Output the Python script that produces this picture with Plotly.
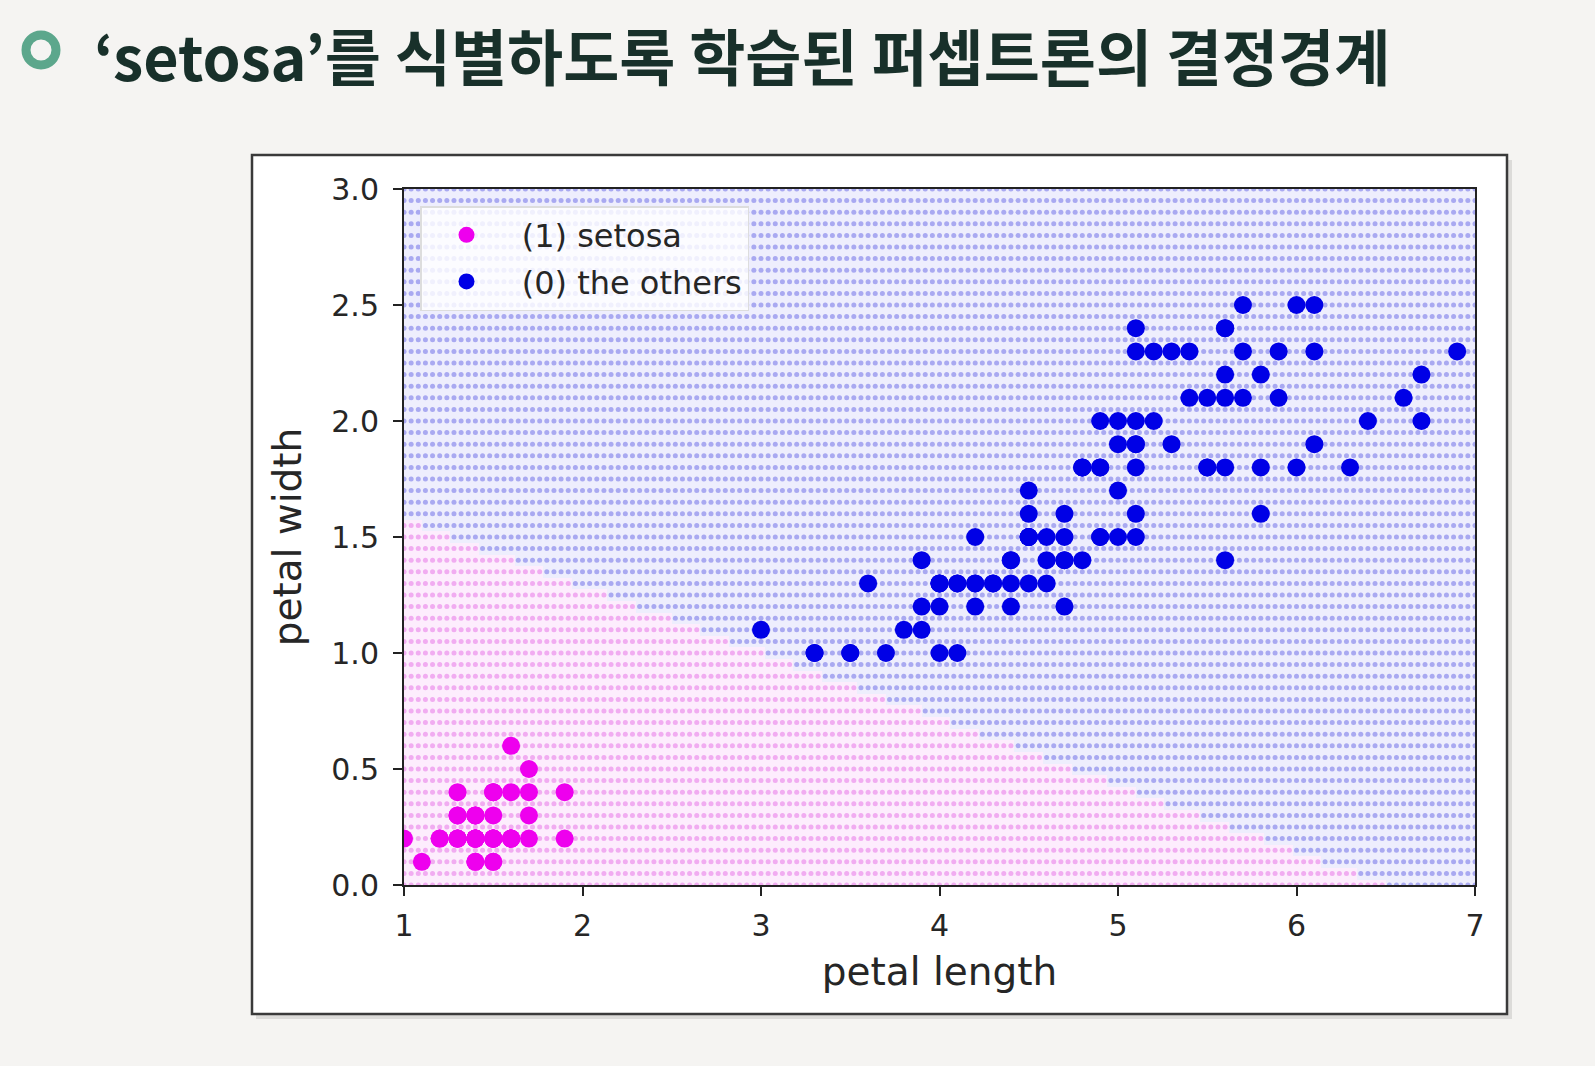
import numpy as np
import plotly.graph_objects as go

# ---------------- data ----------------
setosa_petal_length = [1.4, 1.4, 1.3, 1.5, 1.4, 1.7, 1.4, 1.5, 1.4, 1.5,
                       1.5, 1.6, 1.4, 1.1, 1.2, 1.5, 1.3, 1.4, 1.7, 1.5,
                       1.7, 1.5, 1.0, 1.7, 1.9, 1.6, 1.6, 1.5, 1.4, 1.6,
                       1.6, 1.5, 1.5, 1.4, 1.5, 1.2, 1.3, 1.4, 1.3, 1.5,
                       1.3, 1.3, 1.3, 1.6, 1.9, 1.4, 1.6, 1.4, 1.5, 1.4]
setosa_petal_width = [0.2, 0.2, 0.2, 0.2, 0.2, 0.4, 0.3, 0.2, 0.2, 0.1,
                      0.2, 0.2, 0.1, 0.1, 0.2, 0.4, 0.4, 0.3, 0.3, 0.3,
                      0.2, 0.4, 0.2, 0.5, 0.2, 0.2, 0.4, 0.2, 0.2, 0.2,
                      0.2, 0.4, 0.1, 0.2, 0.2, 0.2, 0.2, 0.1, 0.2, 0.2,
                      0.3, 0.3, 0.2, 0.6, 0.4, 0.3, 0.2, 0.2, 0.2, 0.2]

others_petal_length = [4.7, 4.5, 4.9, 4.0, 4.6, 4.5, 4.7, 3.3, 4.6, 3.9,
                       3.5, 4.2, 4.0, 4.7, 3.6, 4.4, 4.5, 4.1, 4.5, 3.9,
                       4.8, 4.0, 4.9, 4.7, 4.3, 4.4, 4.8, 5.0, 4.5, 3.5,
                       3.8, 3.7, 3.9, 5.1, 4.5, 4.5, 4.7, 4.4, 4.1, 4.0,
                       4.4, 4.6, 4.0, 3.3, 4.2, 4.2, 4.2, 4.3, 3.0, 4.1,
                       6.0, 5.1, 5.9, 5.6, 5.8, 6.6, 4.5, 6.3, 5.8, 6.1,
                       5.1, 5.3, 5.5, 5.0, 5.1, 5.3, 5.5, 6.7, 6.9, 5.0,
                       5.7, 4.9, 6.7, 4.9, 5.7, 6.0, 4.8, 4.9, 5.6, 5.8,
                       6.1, 6.4, 5.6, 5.1, 5.6, 6.1, 5.6, 5.5, 4.8, 5.4,
                       5.6, 5.1, 5.1, 5.9, 5.7, 5.2, 5.0, 5.2, 5.4, 5.1]
others_petal_width = [1.4, 1.5, 1.5, 1.3, 1.5, 1.3, 1.6, 1.0, 1.3, 1.4,
                      1.0, 1.5, 1.0, 1.4, 1.3, 1.4, 1.5, 1.0, 1.5, 1.1,
                      1.8, 1.3, 1.5, 1.2, 1.3, 1.4, 1.4, 1.7, 1.5, 1.0,
                      1.1, 1.0, 1.2, 1.6, 1.5, 1.6, 1.5, 1.3, 1.3, 1.3,
                      1.2, 1.4, 1.2, 1.0, 1.3, 1.2, 1.3, 1.3, 1.1, 1.3,
                      2.5, 1.9, 2.1, 1.8, 2.2, 2.1, 1.7, 1.8, 1.8, 2.5,
                      2.0, 1.9, 2.1, 2.0, 2.4, 2.3, 1.8, 2.2, 2.3, 1.5,
                      2.3, 2.0, 2.0, 1.8, 2.1, 1.8, 1.8, 1.8, 2.1, 1.6,
                      1.9, 2.0, 2.2, 1.5, 1.4, 2.3, 2.4, 1.8, 1.8, 2.1,
                      2.4, 2.3, 1.9, 2.3, 2.5, 2.3, 1.9, 2.0, 2.3, 1.8]

# learned perceptron (decision boundary)
w_length = -0.286
w_width = -1.0
bias = 1.86

x_tick_vals = [1, 2, 3, 4, 5, 6, 7]
y_tick_vals = [0.0, 0.5, 1.0, 1.5, 2.0, 2.5, 3.0]

title_text = "‘setosa’를 식별하도록 학습된 퍼셉트론의 결정경계"
label_setosa = "\u00a0(1) setosa"
label_others = "\u00a0(0) the others"

# ---------------- decision-region mesh ----------------
mesh_x = np.arange(1.0, 7.0001, 0.04)
mesh_y = np.arange(0.0, 3.0001, 0.05)
MX, MY = np.meshgrid(mesh_x, mesh_y)
pred = (w_length * MX + w_width * MY + bias > 0).astype(int)  # 1 = setosa

# ---------------- geometry ----------------
W, H = 1595, 1066
L, R, T, B = 404, 1475, 189, 885


def px(x):
    return (x - L) / (R - L)


def py(y):
    return (B - y) / (B - T)


fig = go.Figure()

# light tint between mesh dots
fig.add_trace(go.Heatmap(
    x=mesh_x, y=mesh_y, z=pred,
    colorscale=[[0, "#eeeefd"], [1, "#fdedfd"]],
    showscale=False, hoverinfo="skip", zmin=0, zmax=1,
))

sel1 = pred.ravel() == 1
fig.add_trace(go.Scatter(
    x=MX.ravel()[sel1], y=MY.ravel()[sel1], mode="markers",
    marker=dict(size=5, color="rgba(236,150,236,0.75)", line=dict(width=0)),
    showlegend=False, hoverinfo="skip",
))
fig.add_trace(go.Scatter(
    x=MX.ravel()[~sel1], y=MY.ravel()[~sel1], mode="markers",
    marker=dict(size=5, color="rgba(145,145,236,0.75)", line=dict(width=0)),
    showlegend=False, hoverinfo="skip",
))

fig.add_trace(go.Scatter(
    x=setosa_petal_length, y=setosa_petal_width, mode="markers",
    name=label_setosa, legendgroup="a",
    marker=dict(size=18, color="#ee00ee", line=dict(width=0)),
))
fig.add_trace(go.Scatter(
    x=others_petal_length, y=others_petal_width, mode="markers",
    name=label_others, legendgroup="b",
    marker=dict(size=18, color="#0000e6", line=dict(width=0)),
))

axis_font = dict(family="DejaVu Sans", size=30, color="#262626")
title_font = dict(family="DejaVu Sans", size=39, color="#262626")

fig.update_xaxes(
    range=[1, 7], tickvals=x_tick_vals, ticks="outside", ticklen=9, tickwidth=2,
    tickcolor="#222", showline=True, linecolor="#222", linewidth=2, mirror=True,
    showgrid=False, zeroline=False, tickfont=axis_font, ticklabelstandoff=4,
    title=dict(text="petal length", font=title_font, standoff=16),
)
fig.update_yaxes(
    range=[0, 3], tickvals=y_tick_vals, tickformat=".1f", ticks="outside",
    ticklen=9, tickwidth=2, tickcolor="#222", showline=True, linecolor="#222",
    linewidth=2, mirror=True, showgrid=False, zeroline=False, tickfont=axis_font,
    ticklabelstandoff=8,
    title=dict(text="petal width", font=title_font, standoff=18),
)

shapes = [
    # shadow of the white panel
    dict(type="rect", xref="paper", yref="paper", layer="below",
         x0=px(256), x1=px(1512), y0=py(1019), y1=py(160),
         fillcolor="rgba(0,0,0,0.10)", line=dict(width=0)),
    # white panel
    dict(type="rect", xref="paper", yref="paper", layer="below",
         x0=px(252), x1=px(1507), y0=py(1014), y1=py(155),
         fillcolor="white", line=dict(color="#3a3a3a", width=2.5)),
    # title bullet ring
    dict(type="circle", xref="paper", yref="paper",
         x0=px(26), x1=px(56), y0=py(65), y1=py(35),
         fillcolor="rgba(0,0,0,0)", line=dict(color="#5ca78c", width=9)),
]

annotations = [
    dict(text=title_text, xref="paper", yref="paper", x=px(92), y=py(54),
         xanchor="left", yanchor="middle", showarrow=False,
         font=dict(family="Noto Sans CJK KR", size=61, color="#18302a",
                   weight="bold")),
]

fig.update_layout(
    width=W, height=H,
    margin=dict(l=L, r=W - R, t=T, b=H - B, pad=0),
    paper_bgcolor="#f5f4f2", plot_bgcolor="white",
    shapes=shapes, annotations=annotations,
    legend=dict(
        x=px(420), y=py(206), xanchor="left", yanchor="top",
        bgcolor="rgba(255,255,255,0.82)", bordercolor="#dddddd", borderwidth=1.5,
        font=dict(family="DejaVu Sans", size=32, color="#262626"),
        traceorder="grouped", tracegroupgap=2, itemwidth=80,
    ),
)

fig.write_html("out.html")
